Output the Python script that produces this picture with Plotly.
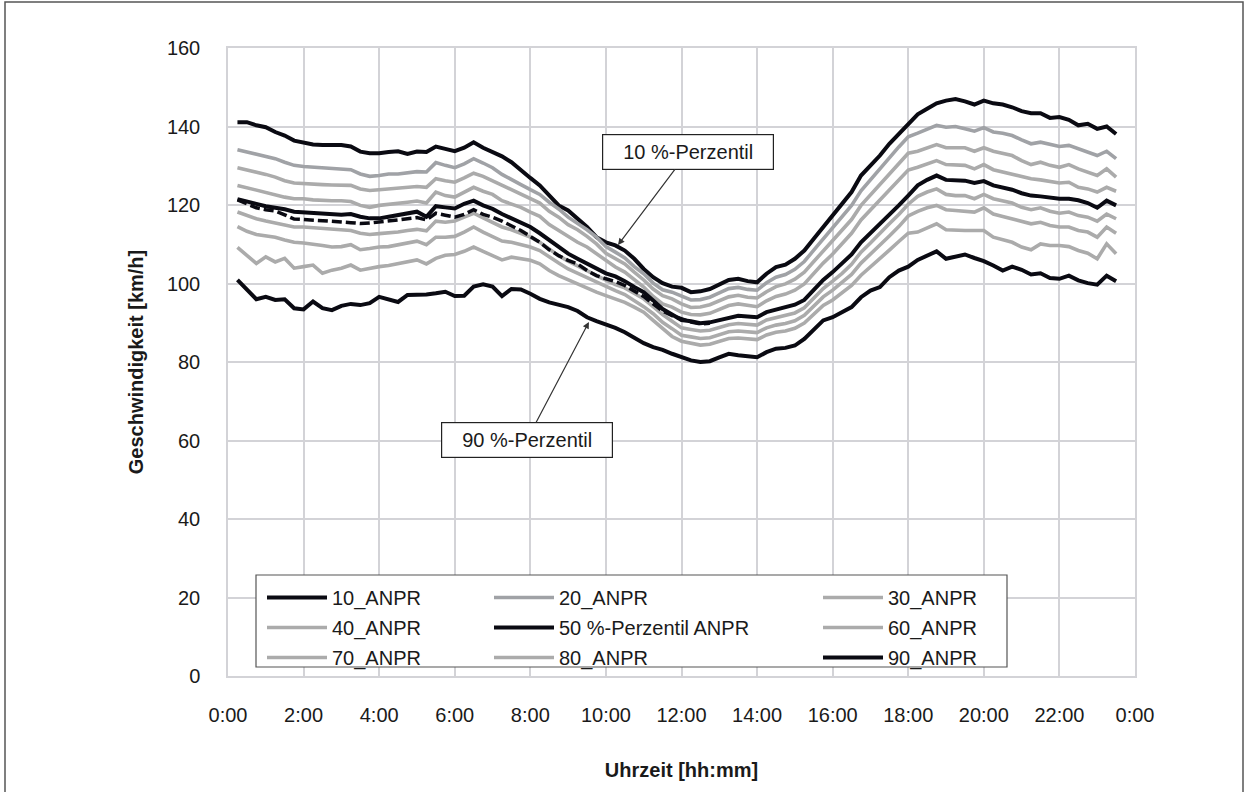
import plotly.graph_objects as go

# Uhrzeit in Stunden, 15-Minuten-Raster von 0:15 bis 23:30
zeit = [0.25 * k for k in range(1, 95)]

p10 = [141.1, 141.1, 140.3, 139.8, 138.6, 137.7, 136.4, 135.8, 135.4, 135.3, 135.4, 135.3,
       134.9, 133.6, 133.2, 133.2, 133.5, 133.7, 133.0, 133.6, 133.5, 134.9, 134.3, 133.7,
       134.6, 136.0, 134.6, 133.5, 132.4, 130.9, 128.8, 126.9, 125.0, 122.4, 119.9, 118.6,
       116.5, 114.4, 111.8, 110.5, 109.7, 108.4, 106.3, 103.7, 101.6, 100.1, 99.2, 98.9,
       97.8, 98.0, 98.6, 99.7, 100.9, 101.2, 100.6, 100.3, 102.5, 104.2, 104.8, 106.3,
       108.4, 111.4, 114.4, 117.3, 120.3, 123.3, 127.5, 130.1, 132.6, 135.6, 138.1, 140.7,
       143.1, 144.5, 145.9, 146.6, 147.0, 146.4, 145.6, 146.6, 145.9, 145.6, 144.9, 143.9,
       143.4, 143.4, 142.2, 142.4, 141.7, 140.3, 140.7, 139.4, 140.0, 138.1]

p20 = [134.1, 133.5, 133.0, 132.4, 131.8, 130.9, 130.1, 129.8, 129.6, 129.5, 129.4, 129.2,
       129.0, 127.9, 127.3, 127.5, 127.9, 127.9, 128.1, 128.5, 128.4, 130.8, 130.1, 129.5,
       130.5, 131.8, 130.7, 129.5, 127.8, 126.4, 125.2, 123.9, 122.7, 120.7, 119.0, 116.9,
       115.4, 113.7, 111.8, 109.4, 108.0, 106.5, 104.3, 102.5, 100.1, 98.4, 97.8, 96.7,
       95.8, 95.9, 96.5, 97.6, 98.7, 99.0, 98.5, 98.3, 100.2, 101.6, 102.3, 103.6,
       105.6, 108.5, 111.3, 114.1, 117.0, 119.9, 123.6, 126.5, 129.2, 132.0, 134.8, 137.4,
       138.3, 139.2, 140.3, 139.8, 140.0, 139.4, 138.8, 139.7, 138.6, 138.3, 137.7, 136.6,
       135.6, 136.0, 135.4, 134.9, 135.2, 134.3, 133.6, 132.6, 133.7, 131.8]

p30 = [129.5, 129.0, 128.4, 127.8, 127.1, 126.2, 125.6, 125.4, 125.2, 125.2, 125.1, 125.0,
       125.0, 124.1, 123.7, 123.9, 124.1, 124.4, 124.5, 124.7, 124.5, 126.7, 126.2, 125.8,
       126.9, 128.1, 127.3, 126.2, 125.0, 123.9, 122.8, 121.6, 120.5, 118.4, 116.9, 115.0,
       113.7, 112.0, 110.1, 107.7, 106.3, 105.0, 102.9, 100.9, 98.6, 96.9, 96.1, 94.8,
       93.9, 94.0, 94.6, 95.6, 96.6, 97.0, 96.5, 96.3, 97.9, 99.2, 99.9, 101.1,
       102.9, 105.6, 108.2, 110.8, 113.6, 116.3, 119.9, 122.6, 125.2, 128.0, 130.6, 133.2,
       133.7, 134.6, 135.4, 134.6, 134.7, 134.6, 133.7, 134.6, 133.7, 133.2, 132.6, 131.3,
       130.3, 130.9, 130.1, 129.6, 130.3, 129.2, 128.4, 127.5, 129.2, 127.1]

p40 = [125.0, 124.4, 123.7, 123.2, 122.7, 122.0, 121.6, 121.6, 121.3, 121.1, 121.1, 121.1,
       120.9, 119.9, 119.4, 119.9, 120.1, 120.5, 120.7, 121.0, 120.5, 123.3, 122.4, 122.0,
       123.3, 124.5, 123.5, 122.7, 121.1, 120.3, 119.4, 118.2, 117.1, 115.0, 113.5, 111.8,
       110.5, 109.3, 107.6, 105.7, 104.2, 102.9, 100.9, 99.1, 96.7, 94.8, 94.0, 92.7,
       92.1, 92.0, 92.4, 93.4, 94.4, 94.8, 94.4, 94.1, 95.6, 96.7, 97.3, 98.3,
       99.9, 102.6, 105.2, 107.5, 110.2, 112.8, 116.2, 118.8, 121.4, 124.0, 126.5, 128.9,
       129.6, 130.5, 131.3, 130.3, 130.3, 130.1, 129.2, 130.3, 129.0, 128.4, 127.9, 127.3,
       126.7, 126.4, 126.1, 125.6, 125.8, 124.5, 124.1, 123.3, 124.5, 123.5]

p50 = [121.5, 120.8, 120.3, 119.7, 119.4, 118.9, 118.3, 118.1, 118.0, 117.7, 117.5, 117.5,
       117.7, 117.0, 116.6, 116.6, 117.0, 117.5, 117.9, 118.3, 117.0, 119.7, 119.4, 119.1,
       120.3, 121.1, 119.9, 119.0, 117.7, 116.6, 115.6, 114.4, 112.8, 111.0, 109.3, 107.6,
       106.3, 105.0, 103.7, 102.6, 101.8, 100.6, 99.1, 97.8, 95.7, 93.5, 92.1, 90.7,
       90.4, 89.9, 90.1, 90.7, 91.4, 91.8, 91.6, 91.4, 92.7, 93.3, 93.8, 94.6,
       95.8, 98.2, 100.9, 102.9, 105.0, 107.4, 110.5, 112.8, 115.2, 117.7, 119.9, 122.4,
       125.0, 126.4, 127.5, 126.4, 126.4, 126.2, 125.6, 126.1, 125.0, 124.4, 123.9, 123.0,
       122.4, 122.2, 121.8, 121.6, 121.6, 121.2, 120.5, 119.3, 121.1, 119.9]

p60 = [118.2, 117.3, 116.5, 115.9, 115.4, 114.8, 114.4, 114.4, 114.2, 113.9, 113.7, 113.7,
       113.5, 112.8, 112.5, 112.7, 112.8, 113.1, 113.5, 113.8, 113.4, 115.9, 115.6, 115.9,
       116.9, 117.9, 116.7, 115.6, 114.4, 113.7, 112.8, 111.8, 110.5, 108.8, 107.1, 105.7,
       104.6, 103.3, 102.0, 100.8, 99.7, 98.9, 97.5, 96.1, 94.1, 92.1, 90.4, 88.7,
       88.3, 87.9, 88.1, 88.8, 89.5, 89.8, 89.6, 89.4, 90.7, 91.3, 91.7, 92.5,
       93.8, 96.2, 98.7, 100.6, 102.6, 104.9, 108.0, 110.3, 112.6, 115.2, 117.6, 120.2,
       122.2, 123.3, 124.1, 122.7, 122.4, 122.4, 121.6, 122.7, 121.6, 121.1, 120.5, 119.4,
       118.8, 119.3, 118.4, 117.9, 118.2, 117.3, 116.9, 115.9, 117.7, 116.5]

p70 = [114.5, 113.3, 112.5, 112.1, 111.8, 111.1, 110.5, 110.3, 110.1, 109.7, 109.3, 109.4,
       109.9, 108.6, 108.9, 109.3, 109.4, 109.9, 110.5, 110.8, 109.9, 111.8, 111.8, 112.0,
       113.1, 114.4, 113.1, 112.0, 110.8, 110.5, 109.9, 109.3, 108.4, 106.7, 105.2, 103.7,
       102.6, 101.4, 100.3, 99.1, 98.2, 97.2, 95.7, 94.1, 92.3, 90.1, 88.5, 86.8,
       86.4, 86.0, 86.2, 86.9, 87.7, 87.9, 87.7, 87.5, 88.7, 89.4, 89.8, 90.5,
       91.9, 94.2, 96.6, 98.3, 100.2, 102.3, 105.2, 107.4, 109.6, 112.1, 114.5, 117.2,
       118.4, 119.3, 119.9, 118.8, 118.6, 118.4, 118.2, 119.3, 117.7, 117.1, 116.5, 115.9,
       115.2, 115.6, 114.8, 114.4, 114.4, 113.5, 113.1, 111.8, 114.4, 112.8]

p80 = [109.2, 107.0, 105.1, 106.8, 105.5, 106.4, 103.9, 104.3, 104.7, 102.6, 103.4, 103.9,
       104.7, 103.4, 103.9, 104.3, 104.6, 105.0, 105.6, 106.0, 105.0, 106.4, 107.2, 107.4,
       108.2, 109.3, 108.2, 107.1, 106.0, 106.7, 106.3, 105.9, 105.0, 103.3, 102.0, 100.9,
       99.9, 98.9, 97.8, 96.9, 96.1, 95.2, 94.0, 92.7, 90.6, 88.5, 86.5, 85.3,
       84.8, 84.3, 84.5, 85.3, 86.0, 86.1, 85.9, 85.7, 86.9, 87.6, 87.9, 88.6,
       89.9, 92.2, 94.4, 95.8, 97.6, 99.5, 102.1, 104.2, 106.1, 108.5, 110.7, 112.8,
       113.1, 114.2, 115.2, 113.7, 113.5, 113.5, 113.5, 113.5, 111.8, 111.1, 110.5, 109.3,
       108.6, 110.1, 109.7, 109.7, 109.4, 108.4, 107.7, 106.3, 110.1, 107.6]

p90 = [100.9, 98.3, 96.0, 96.6, 95.8, 96.0, 93.7, 93.4, 95.4, 93.7, 93.2, 94.3,
       94.8, 94.5, 95.0, 96.6, 95.9, 95.3, 97.1, 97.1, 97.2, 97.5, 97.9, 96.8,
       96.9, 99.2, 99.8, 99.2, 96.8, 98.6, 98.5, 97.4, 96.1, 95.2, 94.6, 94.0,
       93.0, 91.4, 90.4, 89.6, 88.7, 87.6, 86.3, 84.8, 83.8, 83.1, 82.1, 81.2,
       80.4, 80.0, 80.2, 81.2, 82.1, 81.7, 81.4, 81.2, 82.5, 83.4, 83.6, 84.2,
       85.9, 88.4, 90.6, 91.4, 92.7, 94.0, 96.5, 98.2, 99.1, 101.6, 103.3, 104.3,
       106.0, 107.1, 108.2, 106.3, 106.9, 107.4, 106.5, 105.7, 104.6, 103.3, 104.3, 103.5,
       102.3, 102.6, 101.4, 101.2, 102.0, 100.8, 100.1, 99.7, 102.0, 100.6]

# gestrichelte Vergleichslinie (0:15 bis 12:45)
p_gestrichelt = [121.3, 120.3, 119.3, 118.8, 118.5, 117.5, 116.4, 116.3, 116.2, 116.1, 115.9, 115.7,
                 115.5, 115.3, 115.4, 115.6, 115.9, 116.2, 116.5, 116.8, 116.2, 117.9, 117.4, 116.9,
                 117.6, 118.8, 117.6, 116.9, 115.9, 114.8, 113.5, 112.0, 110.5, 108.6, 107.1, 105.9,
                 105.0, 103.3, 102.0, 101.2, 100.5, 99.5, 98.2, 96.7, 94.8, 93.0, 91.8, 91.0,
                 90.2, 89.7, 89.9]

namen = ["10_ANPR", "20_ANPR", "30_ANPR", "40_ANPR", "50 %-Perzentil ANPR",
         "60_ANPR", "70_ANPR", "80_ANPR", "90_ANPR"]
reihen = [p10, p20, p30, p40, p50, p60, p70, p80, p90]

x_tickvals = [0, 2, 4, 6, 8, 10, 12, 14, 16, 18, 20, 22, 24]
x_ticktext = ["0:00", "2:00", "4:00", "6:00", "8:00", "10:00", "12:00",
              "14:00", "16:00", "18:00", "20:00", "22:00", "0:00"]

SCHWARZ = "#0a0a12"
GRAU = "#ababab"
GRAU_DUNKEL = "#a0a2a6"
farben = [SCHWARZ, GRAU_DUNKEL, GRAU, GRAU, SCHWARZ, GRAU, GRAU, GRAU, SCHWARZ]
breiten = [4, 3.6, 3.6, 3.6, 4, 3.6, 3.6, 3.6, 4]
legenden = ["legend", "legend2", "legend3"] * 3

FONT = "Liberation Sans, Arial, sans-serif"

fig = go.Figure()
for k, (name, werte) in enumerate(zip(namen, reihen)):
    fig.add_trace(go.Scatter(
        x=zeit, y=werte, mode="lines", name=name,
        line=dict(color=farben[k], width=breiten[k]),
        legend=legenden[k], legendgroup=name,
    ))

fig.add_trace(go.Scatter(
    x=zeit[:len(p_gestrichelt)], y=p_gestrichelt, mode="lines",
    name="Vergleichslinie", showlegend=False,
    line=dict(color=SCHWARZ, width=3.5, dash="10px,4px"),
))

PL, PR, PT, PB = 228, 1135, 48, 676
W, H = 1248, 792
pw, ph = PR - PL, PB - PT


def px_x(px):
    return (px - PL) / pw


def px_y(py):
    return (PB - py) / ph


leg_common = dict(
    orientation="v", yanchor="top", xanchor="left",
    bgcolor="rgba(0,0,0,0)", borderwidth=0,
    font=dict(family=FONT, size=20, color="#1a1a1a"),
    tracegroupgap=1, itemwidth=60,
)

fig.update_layout(
    width=W, height=H,
    margin=dict(l=PL, r=W - PR, t=PT, b=H - PB, autoexpand=False),
    paper_bgcolor="white", plot_bgcolor="white",
    font=dict(family=FONT, size=20, color="#1a1a1a"),
    legend=dict(x=px_x(262), y=px_y(578), **leg_common),
    legend2=dict(x=px_x(489), y=px_y(578), **leg_common),
    legend3=dict(x=px_x(818), y=px_y(578), **leg_common),
    xaxis=dict(
        range=[0, 24], tickvals=x_tickvals, ticktext=x_ticktext,
        showgrid=True, gridcolor="#d3d3d7", gridwidth=1.5,
        showline=True, linecolor="#d3d3d7", linewidth=1.5, mirror=True,
        zeroline=False, ticks="", ticklabelstandoff=20,
        tickfont=dict(family=FONT, size=20, color="#1a1a1a"),
        title=dict(text="<b>Uhrzeit [hh:mm]</b>", standoff=38,
                   font=dict(family=FONT, size=20, color="#1a1a1a")),
    ),
    yaxis=dict(
        range=[0, 160], dtick=20,
        showgrid=True, gridcolor="#d3d3d7", gridwidth=1.5,
        showline=True, linecolor="#d3d3d7", linewidth=1.5, mirror=True,
        zeroline=False, ticks="", ticklabelstandoff=22,
        tickfont=dict(family=FONT, size=20, color="#1a1a1a"),
        title=dict(text="<b>Geschwindigkeit [km/h]</b>", standoff=18,
                   font=dict(family=FONT, size=20, color="#1a1a1a")),
    ),
    showlegend=True,
)

# Rahmen um die Legende
fig.add_shape(type="rect", xref="paper", yref="paper",
              x0=px_x(256), x1=px_x(1007), y0=px_y(667), y1=px_y(575),
              line=dict(color="#555555", width=1.2), fillcolor="white", layer="above")

# äußerer Rahmen der Grafik
fig.add_shape(type="rect", xref="paper", yref="paper",
              x0=px_x(5), x1=px_x(1243), y0=px_y(800), y1=px_y(2),
              line=dict(color="#555555", width=1.5), fillcolor="rgba(0,0,0,0)", layer="above")

anno_style = dict(
    showarrow=True, arrowhead=2, arrowsize=1.1, arrowwidth=1.2, arrowcolor="#333333",
    bgcolor="white", bordercolor="#222222", borderwidth=1.2, borderpad=2,
    width=166, height=30, axref="pixel", ayref="pixel",
    font=dict(family=FONT, size=20, color="#1a1a1a"),
)
fig.add_annotation(x=10.32, y=109.8, ax=70, ay=-93, text="10 %-Perzentil", **anno_style)
fig.add_annotation(x=9.55, y=90.2, ax=-62, ay=118, text="90 %-Perzentil", **anno_style)

fig.write_html("out.html")
